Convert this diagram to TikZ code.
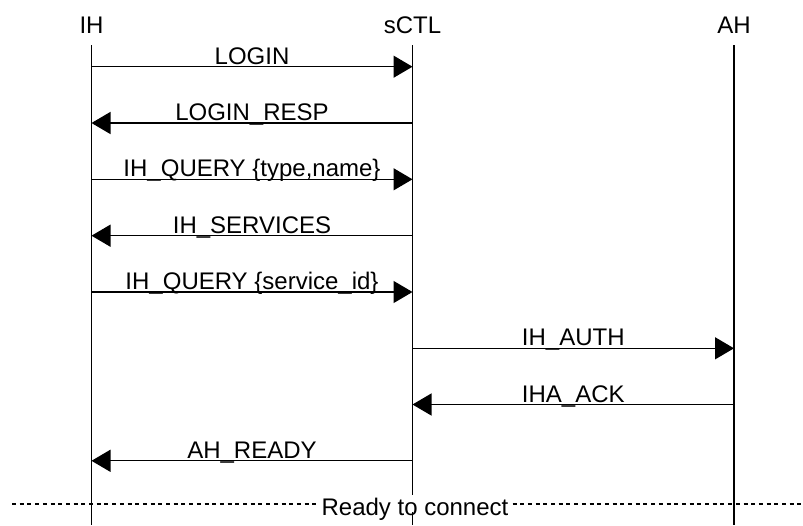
\documentclass[tikz,border=0pt]{standalone}
\usepackage{fontspec}
\setmainfont{Liberation Sans}
\usetikzlibrary{arrows.meta}
\begin{document}
\begin{tikzpicture}[x=1pt,y=-1pt,
  txt/.style={font=\fontsize{24}{28}\selectfont, inner sep=0pt, anchor=base},
  lifeline/.style={line width=1.3pt},
  msg/.style={line width=1.3pt, -{Triangle[length=19pt,width=22pt]}},
  lbl/.style={txt, midway, yshift=2.5pt},
  sep/.style={line width=1.3pt, dash pattern=on 4pt off 3.7pt}]
\useasboundingbox (0,0) rectangle (803,525);
% headers
\node[txt] (hIH) at (91.5,33) {IH};
\node[txt] (hSC) at (412.5,33) {sCTL};
\node[txt] (hAH) at (734,33) {AH};
% lifelines
\coordinate (tIH) at (91.5,45);  \coordinate (bIH) at (91.5,525);
\coordinate (tSC) at (412.5,45); \coordinate (bSC) at (412.5,525);
\coordinate (tAH) at (734,45);   \coordinate (bAH) at (734,525);
\draw[lifeline] (tIH) -- (bIH);
\draw[lifeline] (tSC) -- (bSC);
\draw[lifeline] (tAH) -- (bAH);
% message end points
\foreach \i/\y in {1/66.7,2/123.0,3/179.3,4/235.7,5/292.0,6/348.3,7/404.5,8/460.8}{
  \coordinate (ih\i) at (91.5,\y);
  \coordinate (sc\i) at (412.5,\y);
  \coordinate (ah\i) at (734,\y);
}
\draw[msg] (ih1) -- (sc1) node[lbl] (m1) {LOGIN};
\draw[msg] (sc2) -- (ih2) node[lbl] (m2) {LOGIN\_RESP};
\draw[msg] (ih3) -- (sc3) node[lbl] (m3) {IH\_QUERY \{type,name\}};
\draw[msg] (sc4) -- (ih4) node[lbl] (m4) {IH\_SERVICES};
\draw[msg] (ih5) -- (sc5) node[lbl] (m5) {IH\_QUERY \{service\_id\}};
\draw[msg] (sc6) -- (ah6) node[lbl] (m6) {IH\_AUTH};
\draw[msg] (ah7) -- (sc7) node[lbl] (m7) {IHA\_ACK};
\draw[msg] (sc8) -- (ih8) node[lbl] (m8) {AH\_READY};
% separator
\coordinate (sL) at (12,504);
\coordinate (sR) at (803,504);
\draw[sep] (sL) -- (sR);
\fill[white] (320,495) rectangle (510,511.5);
\node[txt] (ready) at (415,515) {Ready to connect};
\end{tikzpicture}
\end{document}
